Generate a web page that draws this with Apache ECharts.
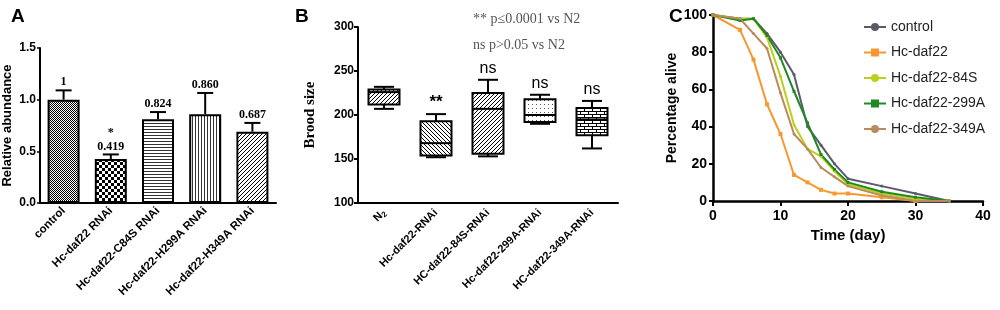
<!DOCTYPE html>
<html>
<head>
<meta charset="utf-8">
<script src="https://cdn.jsdelivr.net/npm/echarts@6/dist/echarts.min.js"></script>
<style>
html, body { margin: 0; padding: 0; background: #fff; }
#chart { width: 1000px; height: 310px; }
</style>
</head>
<body>
<div id="chart"></div>
<script>
// ---- panel A: relative abundance ----
var abundanceCats = ['control', 'Hc-daf22 RNAi', 'Hc-daf22-C84S RNAi', 'Hc-daf22-H299A RNAi', 'Hc-daf22-H349A RNAi'];
var abundanceVals = [1.0, 0.425, 0.81, 0.86, 0.69];
var abundanceErr = [0.09, 0.045, 0.07, 0.205, 0.085];
var abundanceLabels = ['1', '0.419', '0.824', '0.860', '0.687'];
var abundanceStars = ['', '*', '', '', ''];

// ---- panel B: brood size (min, q1, median, q3, max) ----
var broodCats = ['N2', 'Hc-daf22-RNAi', 'HC-daf22-84S-RNAi', 'Hc-daf22-299A-RNAi', 'HC-daf22-349A-RNAi'];
var broodBoxes = [
    [207, 212, 226, 229, 232],
    [152, 154, 168, 193, 201],
    [153, 156, 207, 225, 240],
    [190, 192, 200, 218, 223],
    [162, 177, 195, 208, 216]
];
var broodMarks = ['', '**', 'ns', 'ns', 'ns'];
var broodNotes = ['** p≤0.0001 vs N2', 'ns p>0.05 vs N2'];

// ---- panel C: survival ----
var survivalNames = ['control', 'Hc-daf22', 'Hc-daf22-84S', 'Hc-daf22-299A', 'Hc-daf22-349A'];
var survivalControl = [[0, 100], [4, 98], [6, 98], [8, 90], [10, 80], [12, 68], [14, 40], [16, 30], [18, 20], [20, 12], [25, 8], [30, 4], [35, 0]];
var survivalDaf22 = [[0, 100], [4, 92], [6, 76], [8, 52], [10, 36], [12, 14], [14, 10], [16, 6], [18, 4], [20, 4], [25, 2], [30, 0]];
var survival84S = [[0, 100], [4, 98], [6, 98], [8, 88], [10, 67], [12, 41], [14, 28], [16, 24], [18, 16], [20, 9], [25, 4], [30, 1], [35, 0]];
var survival299A = [[0, 100], [4, 97], [6, 98], [8, 89], [10, 77], [12, 59], [14, 42], [16, 25], [18, 17], [20, 10], [25, 5], [30, 2], [35, 0]];
var survival349A = [[0, 100], [4, 98], [6, 90], [8, 82], [10, 58], [12, 36], [14, 28], [16, 18], [18, 13], [20, 8], [25, 3], [30, 0], [35, 0]];
var survivalColors = ['#5b5a6b', '#f7982e', '#bccf1c', '#1f8a1f', '#b98b5c'];

var FONT = '"Liberation Sans", Arial, sans-serif';
var SERIF = '"Liberation Serif", "Times New Roman", serif';

function makePattern(w, h, draw) {
    var c = document.createElement('canvas');
    c.width = w;
    c.height = h;
    var ctx = c.getContext('2d');
    ctx.fillStyle = '#fff';
    ctx.fillRect(0, 0, w, h);
    ctx.fillStyle = '#000';
    draw(ctx);
    return { image: c, repeat: 'repeat' };
}

var patFine = makePattern(2, 2, function (ctx) { ctx.fillRect(0, 0, 1, 1); ctx.fillRect(1, 1, 1, 1); });
var patChecker = makePattern(6, 6, function (ctx) { ctx.fillRect(0, 0, 3, 3); ctx.fillRect(3, 3, 3, 3); });
var patHLines = makePattern(3, 3, function (ctx) { ctx.fillStyle = '#333'; ctx.fillRect(0, 0, 3, 1); });
var patVLines = makePattern(3, 3, function (ctx) { ctx.fillStyle = '#333'; ctx.fillRect(0, 0, 1, 3); });
var patSlash = makePattern(4, 4, function (ctx) { for (var i = 0; i < 4; i++) ctx.fillRect(i, 3 - i, 1, 1); });
var patBack = makePattern(4, 4, function (ctx) { for (var i = 0; i < 4; i++) ctx.fillRect(i, i, 1, 1); });
var patDots = makePattern(4, 4, function (ctx) { ctx.fillStyle = '#555'; ctx.fillRect(0, 0, 1, 1); });
var patBrick = makePattern(8, 6, function (ctx) {
    ctx.fillRect(0, 0, 8, 1); ctx.fillRect(0, 3, 8, 1);
    ctx.fillRect(0, 0, 1, 3); ctx.fillRect(4, 3, 1, 3);
});

var barPatterns = [patFine, patChecker, patHLines, patVLines, patSlash];
var boxPatterns = [patSlash, patBack, patSlash, patDots, patBrick];

var axisLine = { lineStyle: { color: '#000', width: 2 } };

var myChart = echarts.init(document.getElementById('chart'));

function txt(x, y, text, font) {
    return { type: 'text', x: x, y: y, style: { text: text, align: 'center', verticalAlign: 'bottom', textAlign: 'center', textVerticalAlign: 'bottom', font: font, fill: '#000' } };
}

var option = {
    backgroundColor: '#fff',
    animation: false,
    title: [
        { text: 'A', left: 6, top: 2, textStyle: { fontFamily: FONT, fontWeight: 'bold', fontSize: 19, color: '#000' } },
        { text: 'B', left: 290, top: 2, textStyle: { fontFamily: FONT, fontWeight: 'bold', fontSize: 19, color: '#000' } },
        { text: 'C', left: 664, top: 2, textStyle: { fontFamily: FONT, fontWeight: 'bold', fontSize: 19, color: '#000' } }
    ],
    legend: {
        data: survivalNames,
        orient: 'vertical',
        left: 858,
        top: 15,
        itemGap: 11.5,
        itemWidth: 22,
        itemHeight: 10,
        textStyle: { fontFamily: FONT, fontSize: 14, color: '#222' }
    },
    graphic: [
        { type: 'text', left: 473, top: 12, style: { text: broodNotes[0], font: '14px ' + SERIF, fill: '#555' } },
        { type: 'text', left: 473, top: 38, style: { text: broodNotes[1], font: '14px ' + SERIF, fill: '#555' } }
    ],
    grid: [
        { left: 40, top: 48, width: 236, height: 155 },
        { left: 358, top: 27, width: 260, height: 176 },
        { left: 713, top: 15, width: 270, height: 186 }
    ],
    xAxis: [
        {
            gridIndex: 0, type: 'category', data: abundanceCats,
            axisLine: axisLine, axisTick: { alignWithLabel: true, length: 3, lineStyle: { color: '#000', width: 1.5 } },
            axisLabel: { rotate: 45, interval: 0, margin: 6, fontFamily: FONT, fontWeight: 'bold', fontSize: 11.5, color: '#000' }
        },
        {
            gridIndex: 1, type: 'category', data: broodCats,
            axisLine: axisLine, axisTick: { alignWithLabel: true, length: 5, lineStyle: { color: '#000', width: 2 } },
            axisLabel: {
                rotate: 45, interval: 0, margin: 8, fontFamily: FONT, fontWeight: 'bold', fontSize: 11, color: '#000',
                formatter: function (v) { return v === 'N2' ? 'N{sub|2}' : v; },
                rich: { sub: { fontSize: 8, fontWeight: 'bold', fontFamily: FONT, verticalAlign: 'bottom', padding: [6, 0, 0, 0] } }
            }
        },
        {
            gridIndex: 2, type: 'value', min: 0, max: 40, interval: 10,
            name: 'Time (day)', nameLocation: 'middle', nameGap: 26,
            nameTextStyle: { fontFamily: FONT, fontWeight: 'bold', fontSize: 15, color: '#000' },
            axisLine: { lineStyle: { color: '#000', width: 2.5 } }, axisTick: { length: 5, lineStyle: { color: '#000', width: 2 } },
            splitLine: { show: false },
            axisLabel: { margin: 8, fontFamily: FONT, fontWeight: 'bold', fontSize: 14, color: '#000' }
        }
    ],
    yAxis: [
        {
            gridIndex: 0, type: 'value', min: 0, max: 1.5, interval: 0.5,
            name: 'Relative abundance', nameLocation: 'middle', nameGap: 26,
            nameTextStyle: { fontFamily: FONT, fontWeight: 'bold', fontSize: 13, color: '#000' },
            axisLine: { show: true, lineStyle: { color: '#000', width: 2 } }, axisTick: { show: true, length: 3, lineStyle: { color: '#000', width: 1.5 } },
            splitLine: { show: false },
            axisLabel: { margin: 4, fontFamily: FONT, fontWeight: 'bold', fontSize: 12, color: '#000', formatter: function (v) { return v.toFixed(1); } }
        },
        {
            gridIndex: 1, type: 'value', min: 100, max: 300, interval: 50,
            name: 'Brood size', nameLocation: 'middle', nameGap: 40,
            nameTextStyle: { fontFamily: SERIF, fontWeight: 'bold', fontSize: 15, color: '#000' },
            axisLine: { show: true, lineStyle: { color: '#000', width: 2 } }, axisTick: { show: true, length: 4, lineStyle: { color: '#000', width: 2 } },
            splitLine: { show: false },
            axisLabel: { margin: 4, fontFamily: FONT, fontWeight: 'bold', fontSize: 12, color: '#000' }
        },
        {
            gridIndex: 2, type: 'value', min: 0, max: 100, interval: 20,
            name: 'Percentage alive', nameLocation: 'middle', nameGap: 34,
            nameTextStyle: { fontFamily: FONT, fontWeight: 'bold', fontSize: 14, color: '#000' },
            axisLine: { show: true, lineStyle: { color: '#000', width: 2.5 } }, axisTick: { show: true, length: 4, lineStyle: { color: '#000', width: 2 } },
            splitLine: { show: false },
            axisLabel: { margin: 6, fontFamily: FONT, fontWeight: 'bold', fontSize: 14, color: '#000' }
        }
    ],
    series: [
        {
            type: 'bar', xAxisIndex: 0, yAxisIndex: 0, barWidth: 32,
            data: abundanceVals.map(function (v, i) {
                return { value: v, itemStyle: { color: barPatterns[i], borderColor: '#000', borderWidth: 2 } };
            })
        },
        {
            // error bars + value labels
            type: 'custom', xAxisIndex: 0, yAxisIndex: 0, z: 5,
            data: abundanceVals.map(function (v, i) { return [i, v, abundanceErr[i]]; }),
            renderItem: function (params, api) {
                var i = api.value(0);
                var base = api.coord([i, api.value(1)]);
                var top = api.coord([i, api.value(1) + api.value(2)]);
                var children = [
                    { type: 'line', shape: { x1: base[0], y1: base[1], x2: top[0], y2: top[1] }, style: { stroke: '#000', lineWidth: 2 } },
                    { type: 'line', shape: { x1: top[0] - 8, y1: top[1], x2: top[0] + 8, y2: top[1] }, style: { stroke: '#000', lineWidth: 2 } },
                    txt(top[0], top[1] - 2, abundanceLabels[i], 'bold 12px ' + SERIF)
                ];
                if (abundanceStars[i]) children.push(txt(top[0], top[1] - 16, abundanceStars[i], 'bold 12px ' + SERIF));
                return { type: 'group', children: children };
            }
        },
        {
            // box plots
            type: 'custom', xAxisIndex: 1, yAxisIndex: 1,
            data: broodBoxes.map(function (b, i) { return [i].concat(b); }),
            renderItem: function (params, api) {
                var i = api.value(0);
                var lo = api.coord([i, api.value(1)]);
                var q1 = api.coord([i, api.value(2)]);
                var med = api.coord([i, api.value(3)]);
                var q3 = api.coord([i, api.value(4)]);
                var hi = api.coord([i, api.value(5)]);
                var x = lo[0], hw = 15.5, cw = 10;
                var ls = { stroke: '#000', lineWidth: 2 };
                return {
                    type: 'group',
                    children: [
                        { type: 'line', shape: { x1: x, y1: hi[1], x2: x, y2: q3[1] }, style: ls },
                        { type: 'line', shape: { x1: x, y1: q1[1], x2: x, y2: lo[1] }, style: ls },
                        { type: 'line', shape: { x1: x - cw, y1: hi[1], x2: x + cw, y2: hi[1] }, style: ls },
                        { type: 'line', shape: { x1: x - cw, y1: lo[1], x2: x + cw, y2: lo[1] }, style: ls },
                        { type: 'rect', shape: { x: x - hw, y: q3[1], width: hw * 2, height: q1[1] - q3[1] }, style: { fill: boxPatterns[i], stroke: '#000', lineWidth: 2 } },
                        { type: 'line', shape: { x1: x - hw, y1: med[1], x2: x + hw, y2: med[1] }, style: ls },
                        txt(x, hi[1] - 3, broodMarks[i], (i === 1 ? 'bold 17px ' : '16px ') + FONT)
                    ]
                };
            }
        },
        { name: survivalNames[0], type: 'line', xAxisIndex: 2, yAxisIndex: 2, data: survivalControl, symbol: 'circle', symbolSize: 3, color: survivalColors[0], lineStyle: { width: 2 } },
        { name: survivalNames[1], type: 'line', xAxisIndex: 2, yAxisIndex: 2, data: survivalDaf22, symbol: 'rect', symbolSize: 4, color: survivalColors[1], lineStyle: { width: 2 } },
        { name: survivalNames[2], type: 'line', xAxisIndex: 2, yAxisIndex: 2, data: survival84S, symbol: 'circle', symbolSize: 3, color: survivalColors[2], lineStyle: { width: 2 } },
        { name: survivalNames[3], type: 'line', xAxisIndex: 2, yAxisIndex: 2, data: survival299A, symbol: 'rect', symbolSize: 3, color: survivalColors[3], lineStyle: { width: 2 } },
        { name: survivalNames[4], type: 'line', xAxisIndex: 2, yAxisIndex: 2, data: survival349A, symbol: 'circle', symbolSize: 3, color: survivalColors[4], lineStyle: { width: 2 } }
    ]
};

myChart.setOption(option);
</script>
</body>
</html>
